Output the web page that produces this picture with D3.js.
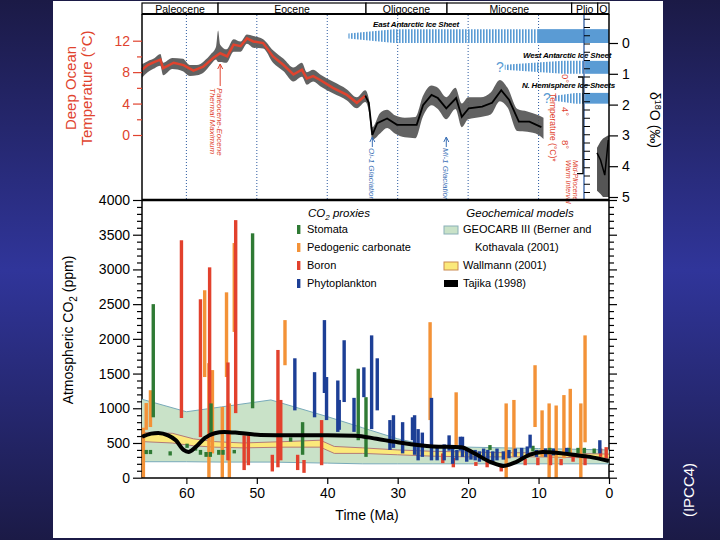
<!DOCTYPE html>
<html><head><meta charset="utf-8">
<script src="https://cdn.jsdelivr.net/npm/d3@7"></script>
<style>body{margin:0;background:#1b1a47}svg{display:block}text{font-family:"Liberation Sans",Arial,Helvetica,sans-serif}</style>
</head><body><svg id="c" width="720" height="540"></svg>
<script>
// ---------------- DATA ----------------
const epochNames = ['Paleocene','Eocene','Oligocene','Miocene','Plio','Q'];
const epochStart = [66.3, 55.5, 34.5, 23.0, 5.3, 1.6];
const epochEnd   = [55.5, 34.5, 23.0, 5.3, 1.6, 0];
const timeTicks = [60,50,40,30,20,10,0];
const tempTicks = [0,4,8,12];
const d18oTicks = [0,1,2,3,4,5];
const co2Ticks = [0,500,1000,1500,2000,2500,3000,3500,4000];
const plioTempTicks = [0,4,8];

// deep-ocean temperature (Ma, degC): smoothed red curve (Paleocene-Eocene)
const tempRed = [[66.3,8.3],[65.5,8.9],[64.5,9.3],[63.7,9.6],[63.3,8.5],[61.8,9.2],[60.4,8.9],[59,8.2],[57.6,8.7],[56.2,9.8],[55.2,10.4],[54.2,10.0],[53.3,11.5],[52.3,11.3],[51.4,12.3],[50.5,11.9],[49.1,11.7],[47.7,10.0],[46.2,8.9],[44.8,7.7],[43.6,8.3],[42.9,7.2],[42,7.5],[41,7.0],[39.2,6.0],[37.2,5.1],[35.8,4.1],[34.6,5.0]];
// smoothed black curve (Oligocene-Miocene)
const tempBlack = [[34.6,5.0],[34.1,4.1],[33.6,0.0],[32.9,1.5],[31.5,2.1],[30.1,1.3],[28.3,1.3],[27.3,1.3],[26.4,3.8],[25.2,5.1],[24.3,4.7],[23.1,3.4],[21.7,4.7],[20.9,2.3],[19.9,3.4],[18.0,3.6],[16.6,4.1],[15.3,5.7],[14.2,4.5],[12.8,1.7],[11.3,1.7],[9.6,1.0]];
// scatter envelope (Ma, upper degC, lower degC)
const tempEnvAge = [66.3,65.5,64.5,63.7,63.3,62,60.5,59.5,58.5,57.5,56.5,55.8,55.5,55.2,54.3,53.3,52.3,51.4,50.5,49.1,47.7,46.2,44.8,43.6,42.9,42,41,39.2,37.2,35.8,34.6,34.1,33.6,32.5,31.5,30.4,29,27.5,26.4,25.2,24.3,23.1,21.8,20.9,20,18.2,16.8,15.5,14.4,13,11.6,10,9.3];
const tempEnvHi  = [9.0,9.4,9.8,10.3,9.2,9.8,9.7,8.9,8.9,9.4,10.3,11.2,13.3,11.5,10.9,12.2,11.9,12.8,12.6,12.2,10.8,9.7,8.6,9.2,8.0,8.3,7.7,6.8,5.8,4.8,5.7,4.6,1.0,2.8,3.2,2.5,2.2,2.3,5.0,6.3,6.0,4.8,6.0,4.0,4.8,4.8,5.4,7.0,6.0,3.3,3.0,2.5,2.2];
const tempEnvLo  = [7.3,8.0,8.5,8.8,7.6,8.4,8.1,7.5,7.6,8.0,9.0,9.6,9.3,9.3,9.2,10.6,10.6,11.6,11.1,11.0,9.2,8.1,6.8,7.4,6.4,6.8,6.2,5.3,4.4,3.4,4.2,3.0,-0.6,0.2,0.9,0.2,-0.3,-0.4,2.4,3.8,3.3,2.0,3.3,1.0,2.0,2.3,2.6,4.3,3.5,0.5,0.4,0.0,-0.5];
// Plio-Pleistocene d18O (Ma, permil)
const plioAge = [1.7,1.2,0.85,0.5,0.15,0.0];
const plioHi  = [3.4,3.2,3.1,3.05,3.0,3.0];
const plioLo  = [4.8,4.9,5.0,5.0,5.0,5.0];
const plioLine = [[1.7,3.57],[1.2,3.8],[0.6,4.29],[0.1,3.15]];

// ice sheets: name, first (dashed) age, full-height age, solid-from age, d18O band top/bottom
const iceNames = ['East Antarctic Ice Sheet','West Antarctic Ice Sheet','N. Hemisphere Ice Sheets'];
const iceStart = [37.0, 14.8, 7.7];
const iceFull  = [30.5, 6.5, 4.8];
const iceSolid = [10.2, 3.4, 3.4];
const iceTop   = [-0.45, 0.58, 1.62];
const iceBot   = [0.0, 1.0, 1.97];

// CO2 proxies: [age Ma, low ppm, high ppm]
const stomata = [[64.7,870,2500],[50.6,1000,3520],[56.5,640,1070],[43.5,330,800],[35.6,540,1570],[34.5,300,1160],[65.7,340,400],[65.1,340,400],[62.3,320,380],[59.9,430,490],[58.7,390,450],[58.0,330,400],[57.2,300,370],[56.6,300,370],[55.4,330,400],[54.8,330,400],[53.2,350,400],[45.2,520,580],[16.9,400,470],[10.8,380,460],[8.4,350,430],[5.7,350,430],[4.4,350,430],[3.5,350,430],[2.1,350,420]];
const pedogenic = [[66.1,0,720],[65.7,690,1075],[65.1,730,1260],[57.4,1450,2700],[56.8,0,1650],[56.3,350,1550],[54.9,0,1020],[54.3,1450,2670],[53.9,0,1070],[53.2,2100,3380],[46.0,1620,2270],[25.4,830,2240],[21.7,440,1230],[14.6,0,1070],[13.5,300,1120],[10.5,730,1620],[9.5,300,970],[8.5,0,1070],[7.5,0,1040],[6.4,280,1190],[5.5,300,1280],[4.0,0,1070],[3.4,510,2050]];
const boron = [[60.7,860,3420],[58.0,585,2570],[56.7,585,3030],[54.1,250,1660],[53.0,930,3710],[51.8,110,610],[51.2,180,610],[47.8,90,330],[47.0,150,1840],[46.6,250,1120],[44.2,110,330],[43.3,70,255],[40.8,180,830],[23.6,210,350],[22.1,150,285],[18.9,170,225],[17.3,150,240],[15.3,90,160],[11.9,180,270],[10.1,180,290],[8.3,180,330],[6.8,180,270],[5.1,230,330],[3.4,180,330],[1.2,300,420],[0.4,280,440]];
const phyto = [[44.6,970,1720],[41.8,870,1520],[40.4,1220,2270],[40.1,830,1450],[38.5,660,1400],[38.3,690,1120],[37.6,1090,1980],[36.2,660,1150],[34.8,1160,1590],[33.7,700,2050],[32.9,970,1720],[31.1,400,830],[30.6,430,900],[29.3,350,800],[27.9,540,870],[27.6,330,900],[27.1,250,700],[26.5,300,650],[25.2,250,1150],[24.4,250,450],[23.4,250,480],[22.7,390,610],[22.2,200,430],[21.6,250,400],[21.1,390,590],[20.8,300,590],[20.2,230,420],[19.6,260,380],[19.0,250,400],[18.4,230,380],[17.8,250,420],[17.2,260,400],[16.5,230,380],[15.9,250,420],[15.0,260,380],[14.2,280,400],[13.3,300,420],[12.4,280,430],[11.6,300,450],[11.2,430,620],[10.3,300,400],[9.0,300,420],[7.9,320,420],[6.0,330,430],[1.3,350,540]];

// geochemical models (Ma, ppm)
const geocarbAge = [66.3,60,55,48,40,35,30,25,20,10,0];
const geocarbHi  = [1130,950,1020,1120,880,720,560,450,440,420,400];
const geocarbLo  = [230,230,225,225,210,200,200,200,200,200,200];
const wallAge = [66.3,62,59,56,52,46,41,39,35,30,25,20,15,10,5,0];
const wallHi  = [650,640,560,520,500,520,540,450,430,400,380,370,360,360,350,340];
const wallLo  = [520,500,460,440,430,440,440,350,350,330,310,300,300,300,290,280];
const tajika = [[66.3,590],[65,635],[64,645],[62.6,610],[61.5,540],[60.4,400],[59.7,370],[58.7,440],[57.4,570],[56,640],[54.6,660],[52.5,645],[49.5,615],[45,610],[40,610],[36,605],[33,560],[30,510],[25,450],[21,440],[19.2,355],[16.8,225],[15,170],[13.2,225],[11.3,330],[9.4,370],[7.5,360],[5.1,330],[2.7,300],[0,240]];

const legendProxyNames = ['Stomata','Pedogenic carbonate','Boron','Phytoplankton'];
const proxyColors = ['#2f7a34','#f39237','#e2412d','#1d3f96'];

// ---------------- DRAW ----------------
const svg = d3.select('#c');
const defs = svg.append('defs');
const grad = defs.append('linearGradient').attr('id','bg').attr('x1',0).attr('y1',0).attr('x2',0).attr('y2',1);
grad.selectAll('stop').data([[0,'#1b1a46'],[0.5,'#30359a'],[1,'#1b1a46']]).join('stop')
  .attr('offset',d=>d[0]).attr('stop-color',d=>d[1]);
const pat = defs.append('pattern').attr('id','stripes').attr('patternUnits','userSpaceOnUse').attr('width',3).attr('height',10);
pat.append('rect').attr('width',1.6).attr('height',10).attr('fill','#5a9bd4');

svg.append('rect').attr('width',720).attr('height',540).attr('fill','url(#bg)');
svg.append('rect').attr('x',53).attr('y',1).attr('width',610).attr('height',537).attr('fill','#fff');

const X0=142, X1=609;
const x = d3.scaleLinear().domain([66.3,0]).range([X0,X1]);
const yT = d3.scaleLinear().domain([0,12]).range([135,40.7]);
const yD = d3.scaleLinear().domain([0,5]).range([43,197]);
const yC = d3.scaleLinear().domain([0,4000]).range([477.7,200]);
const yP = d3.scaleLinear().domain([0,8]).range([77,143]);
const fmt = d3.format('d');

const RED='#e0432e';

// epoch bar
const eg = svg.append('g');
eg.selectAll('rect').data(epochNames).join('rect')
  .attr('x',(d,i)=>x(epochStart[i])).attr('y',3).attr('width',(d,i)=>x(epochEnd[i])-x(epochStart[i])).attr('height',11)
  .attr('fill','#fff').attr('stroke','#000').attr('stroke-width',1.2);
eg.selectAll('text').data(epochNames).join('text')
  .attr('x',(d,i)=>(x(epochEnd[i])+x(epochStart[i]))/2).attr('y',12.5).attr('text-anchor','middle')
  .attr('font-size',10.5).attr('fill','#000').text(d=>d);
svg.append('line').attr('x1',X0).attr('x2',X1).attr('y1',14).attr('y2',14).attr('stroke','#000').attr('stroke-width',2);

// dotted time lines in top panel
svg.append('g').selectAll('line').data(timeTicks.filter(t=>t>0)).join('line')
  .attr('x1',d=>x(d)).attr('x2',d=>x(d)).attr('y1',15).attr('y2',200)
  .attr('stroke','#2c5aa0').attr('stroke-width',1).attr('stroke-dasharray','1,2');

// ice sheets
const ig = svg.append('g');
iceNames.forEach((n,i)=>{
  const t=yD(iceTop[i]), b=yD(iceBot[i]), c=(t+b)/2, h0=2.5;
  const pts=[[x(iceStart[i]),c-h0],[x(iceFull[i]),t],[x(iceSolid[i]),t],[x(iceSolid[i]),b],[x(iceFull[i]),b],[x(iceStart[i]),c+h0]];
  ig.append('polygon').attr('points',pts.map(p=>p.join(',')).join(' ')).attr('fill','url(#stripes)');
  ig.append('rect').attr('x',x(iceSolid[i])).attr('y',t).attr('width',x(0)-x(iceSolid[i])).attr('height',b-t).attr('fill','#5a9bd4');
});
const iceLabelX=[373,523,522], iceLabelY=[27,58,88];
ig.selectAll('text.lab').data(iceNames).join('text').attr('class','lab')
  .attr('x',(d,i)=>iceLabelX[i]).attr('y',(d,i)=>iceLabelY[i]).attr('font-size',8).attr('font-weight','bold')
  .attr('font-style','italic').attr('letter-spacing',-0.2).text(d=>d);
ig.append('text').attr('x',x(15.5)).attr('y',yD(0.79)+5).attr('font-size',14).attr('fill','#5a9bd4').attr('text-anchor','middle').text('?');
ig.append('text').attr('x',x(8.8)).attr('y',yD(1.8)+5).attr('font-size',14).attr('fill','#5a9bd4').attr('text-anchor','middle').text('?');

// temperature envelope
const env = tempEnvAge.map((a,i)=>[a,tempEnvHi[i],tempEnvLo[i]]);
svg.append('path').datum(env).attr('fill','#555').attr('opacity',0.92)
  .attr('d',d3.area().x(d=>x(d[0])).y0(d=>yT(d[2])).y1(d=>yT(d[1])).curve(d3.curveMonotoneX));
svg.append('path').datum(plioAge.map((a,i)=>[a,plioHi[i],plioLo[i]])).attr('fill','#555')
  .attr('d',d3.area().x(d=>x(d[0])).y0(d=>yD(d[2])).y1(d=>yD(d[1])));
const lT = d3.line().x(d=>x(d[0])).y(d=>yT(d[1]));
svg.append('path').datum(tempRed).attr('fill','none').attr('stroke',RED).attr('stroke-width',2.5).attr('d',lT);
svg.append('path').datum(tempBlack).attr('fill','none').attr('stroke','#000').attr('stroke-width',1.8).attr('d',lT);
svg.append('path').datum(plioLine).attr('fill','none').attr('stroke','#000').attr('stroke-width',1.5)
  .attr('d',d3.line().x(d=>x(d[0])).y(d=>yD(d[1])));

// annotations (vertical text, reading top to bottom; extra lines go to the left)
function vtext(g,xp,yp,lines,color,size,lh){
  const t=g.append('text').attr('transform',`translate(${xp},${yp}) rotate(90)`).attr('font-size',size)
    .attr('font-style','italic').attr('fill',color);
  lines.forEach((l,i)=>t.append('tspan').attr('x',0).attr('dy',i?lh:0).text(l));
  return t;
}
const an = svg.append('g');
function arrowUp(xp,y1,y2,color){
  an.append('line').attr('x1',xp).attr('x2',xp).attr('y1',y1).attr('y2',y2).attr('stroke',color).attr('stroke-width',1);
  an.append('path').attr('d',`M${xp-2.5},${y2+5}L${xp},${y2}L${xp+2.5},${y2+5}`).attr('fill','none').attr('stroke',color).attr('stroke-width',1);
}
arrowUp(x(55.2),86,64,RED);
vtext(an,x(55.2)-3,88,['Paleocene-Eocene','Thermal Maximum'],RED,8,7.5);
arrowUp(x(33.6),147,137,'#3a6fb5');
vtext(an,x(33.6)-3,148,['Oi-1 Glaciation'],'#3a6fb5',8,0);
arrowUp(x(23.1),147,137,'#3a6fb5');
vtext(an,x(23.1)-3,148,['Mi-1 Glaciation'],'#3a6fb5',8,0);

// Pliocene temperature scale
const pg = svg.append('g');
pg.append('line').attr('x1',584).attr('x2',584).attr('y1',15).attr('y2',200).attr('stroke','#1f4f9a').attr('stroke-width',1.2);
pg.selectAll('line.tk').data(d3.range(-7,15)).join('line').attr('class','tk')
  .attr('x1',584).attr('x2',590).attr('y1',d=>yP(d)).attr('y2',d=>yP(d)).attr('stroke','#000').attr('stroke-width',1);
pg.append('path').attr('d',`M578,${yP(0)}H583V${yP(11.7)}H577`).attr('fill','none').attr('stroke','#000').attr('stroke-width',1.3);
pg.selectAll('text.pl').data(plioTempTicks).join('text').attr('class','pl')
  .attr('transform',d=>`translate(562,${yP(d)-3}) rotate(90)`).attr('font-size',9.5).attr('fill',RED).text(d=>d+'°');
vtext(pg,550,93,['Temperature (°C)*'],RED,8.5,0).attr('font-style','normal');
vtext(pg,573,160,['Mid-Pliocene','Warm Interval'],RED,7,7);

// top panel axes
svg.append('line').attr('x1',X0).attr('x2',X0).attr('y1',14).attr('y2',478).attr('stroke','#000').attr('stroke-width',1.5);
svg.append('line').attr('x1',X1).attr('x2',X1).attr('y1',14).attr('y2',478).attr('stroke','#000').attr('stroke-width',1.5);
const tAx = svg.append('g').attr('transform',`translate(${X0},0)`)
  .call(d3.axisLeft(yT).tickValues(tempTicks).tickSize(9).tickPadding(3).tickFormat(fmt));
svg.append('g').attr('transform',`translate(${X0},0)`).call(d3.axisLeft(yT).tickValues([2,6,10]).tickSize(5).tickFormat(''))
  .selectAll('line').attr('stroke',RED);
svg.selectAll('.domain').remove();
tAx.selectAll('text').attr('font-size',14).attr('fill',RED).attr('font-family','Liberation Sans, Arial');
tAx.selectAll('line').attr('stroke',RED).attr('stroke-width',1.2);

const dAx = svg.append('g').attr('transform',`translate(${X1},0)`).call(d3.axisRight(yD).tickValues(d18oTicks).tickSize(9).tickPadding(4).tickFormat(fmt));
dAx.select('.domain').remove();
dAx.selectAll('text').attr('font-size',14).attr('fill','#000').attr('font-family','Liberation Sans, Arial');
dAx.selectAll('line').attr('stroke-width',1.2);

// y labels top
const ytl = svg.append('text').attr('transform','translate(76,88) rotate(-90)').attr('text-anchor','middle').attr('font-size',15).attr('fill',RED);
ytl.append('tspan').attr('x',0).attr('dy',0).text('Deep Ocean');
ytl.append('tspan').attr('x',0).attr('dy',16).text('Temperature (°C)');
const dl = svg.append('text').attr('transform','translate(650,120) rotate(90)').attr('text-anchor','middle').attr('font-size',14).attr('fill','#000');
dl.append('tspan').text('δ');
dl.append('tspan').attr('font-size',9).attr('dy',-5).text('18');
dl.append('tspan').attr('dy',5).text('O (‰)');

// ---------- bottom panel ----------
const mg = svg.append('g');
const areaC = (hi,lo,ages)=>d3.area().x((d,i)=>x(ages[i])).y0((d,i)=>yC(lo[i])).y1((d,i)=>yC(hi[i]));
mg.append('path').datum(geocarbAge).attr('fill','#c9e2c8').attr('d',areaC(geocarbHi,geocarbLo,geocarbAge));
mg.append('path').datum(geocarbAge).attr('fill','none').attr('stroke','#78aab9').attr('stroke-width',1).attr('d',d3.line().x((d,i)=>x(geocarbAge[i])).y((d,i)=>yC(geocarbHi[i])));
mg.append('path').datum(geocarbAge).attr('fill','none').attr('stroke','#78aab9').attr('stroke-width',1).attr('d',d3.line().x((d,i)=>x(geocarbAge[i])).y((d,i)=>yC(geocarbLo[i])));
mg.append('path').datum(wallAge).attr('fill','#fbe97a').attr('d',areaC(wallHi,wallLo,wallAge));
mg.append('path').datum(wallAge).attr('fill','none').attr('stroke','#b27a78').attr('stroke-width',1).attr('d',d3.line().x((d,i)=>x(wallAge[i])).y((d,i)=>yC(wallHi[i])));
mg.append('path').datum(wallAge).attr('fill','none').attr('stroke','#b27a78').attr('stroke-width',1).attr('d',d3.line().x((d,i)=>x(wallAge[i])).y((d,i)=>yC(wallLo[i])));

const BW=3.4;
[[pedogenic,1],[boron,2],[stomata,0],[phyto,3]].forEach(([arr,ci])=>{
  mg.append('g').selectAll('rect').data(arr).join('rect')
    .attr('x',d=>x(d[0])-BW/2).attr('width',BW)
    .attr('y',d=>yC(d[2])).attr('height',d=>Math.max(3,yC(d[1])-yC(d[2])))
    .attr('fill',proxyColors[ci]);
});
mg.append('path').datum(tajika).attr('fill','none').attr('stroke','#000').attr('stroke-width',4)
  .attr('d',d3.line().x(d=>x(d[0])).y(d=>yC(d[1])).curve(d3.curveMonotoneX));

// bottom axes
svg.append('line').attr('x1',X0).attr('x2',X1).attr('y1',200).attr('y2',200).attr('stroke','#000').attr('stroke-width',2.5);
svg.append('line').attr('x1',X0).attr('x2',X1).attr('y1',478).attr('y2',478).attr('stroke','#000').attr('stroke-width',1.5);
const cAx = svg.append('g').attr('transform',`translate(${X0},0)`).call(d3.axisLeft(yC).tickValues(co2Ticks).tickSize(9).tickPadding(3).tickFormat(fmt));
svg.append('g').attr('transform',`translate(${X0},0)`).call(d3.axisLeft(yC).tickValues(d3.range(100,4000,100).filter(v=>v%500)).tickSize(5).tickFormat(''));
svg.append('g').attr('transform',`translate(${X1},0)`).call(d3.axisRight(yC).tickValues(co2Ticks).tickSize(8).tickFormat(''));
svg.append('g').attr('transform',`translate(${X1},0)`).call(d3.axisRight(yC).tickValues(d3.range(100,4000,100).filter(v=>v%500)).tickSize(5).tickFormat(''));
const xAx = svg.append('g').attr('transform','translate(0,478)').call(d3.axisBottom(x).tickValues(timeTicks).tickSize(6).tickPadding(4).tickFormat(fmt));
svg.selectAll('.domain').remove();
svg.selectAll('.tick line').attr('stroke-width',1.2);
[cAx,xAx].forEach(a=>a.selectAll('text').attr('font-size',14).attr('fill','#000').attr('font-family','Liberation Sans, Arial'));

svg.append('text').attr('x',367).attr('y',520).attr('text-anchor','middle').attr('font-size',14).text('Time (Ma)');
const cl = svg.append('text').attr('transform','translate(73,330) rotate(-90)').attr('text-anchor','middle').attr('font-size',14);
cl.append('tspan').text('Atmospheric CO');
cl.append('tspan').attr('font-size',10).attr('dy',4).text('2');
cl.append('tspan').attr('dy',-4).text(' (ppm)');

// legend
const lg = svg.append('g').attr('font-size',11);
const lt1 = lg.append('text').attr('x',339).attr('y',217).attr('text-anchor','middle').attr('font-style','italic').attr('font-size',11.5);
lt1.append('tspan').text('CO'); lt1.append('tspan').attr('font-size',8).attr('dy',3).text('2'); lt1.append('tspan').attr('dy',-3).text(' proxies');
legendProxyNames.forEach((n,i)=>{
  lg.append('rect').attr('x',297).attr('y',225+i*18).attr('width',3.4).attr('height',9).attr('fill',proxyColors[i]);
  lg.append('text').attr('x',307).attr('y',233+i*18).text(n);
});
lg.append('text').attr('x',520).attr('y',217).attr('text-anchor','middle').attr('font-style','italic').attr('font-size',11.5).text('Geochemical models');
lg.append('rect').attr('x',444).attr('y',226).attr('width',14).attr('height',8).attr('fill','#c9e2c8').attr('stroke','#8ab0b8');
lg.append('text').attr('x',463).attr('y',233).text('GEOCARB III (Berner and');
lg.append('text').attr('x',475).attr('y',251).text('Kothavala (2001)');
lg.append('rect').attr('x',444).attr('y',262).attr('width',14).attr('height',8).attr('fill','#fbe97a').attr('stroke','#c98a50');
lg.append('text').attr('x',463).attr('y',269).text('Wallmann (2001)');
lg.append('rect').attr('x',444).attr('y',280).attr('width',14).attr('height',7).attr('fill','#000');
lg.append('text').attr('x',463).attr('y',287).text('Tajika (1998)');

// credit
svg.append('text').attr('transform','translate(694,490) rotate(-90)').attr('text-anchor','middle').attr('font-size',15).attr('fill','#fff').text('(IPCC4)');
</script></body></html>
